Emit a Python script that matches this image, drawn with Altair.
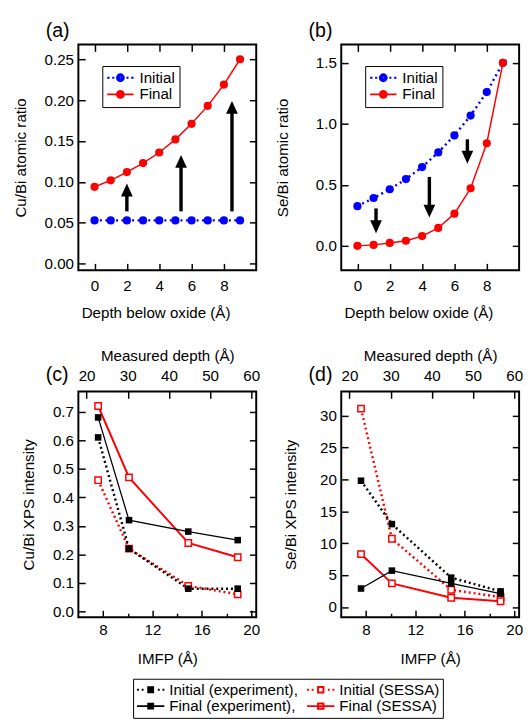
import altair as alt
import pandas as pd

FONT = "Liberation Sans"
BLUE = "#0000ff"
RED = "#ff0000"
BLACK = "#000000"
FS = 15.5

# ---------------- data ----------------
depth = [0, 1, 2, 3, 4, 5, 6, 7, 8, 9]
cu_initial = [0.053, 0.053, 0.053, 0.053, 0.053, 0.053, 0.053, 0.053, 0.053, 0.053]
cu_final = [0.094, 0.102, 0.112, 0.123, 0.136, 0.152, 0.171, 0.193, 0.219, 0.250]
se_initial = [0.325, 0.392, 0.464, 0.547, 0.646, 0.766, 0.905, 1.068, 1.260, 1.500]
se_final = [0.000, 0.008, 0.024, 0.042, 0.080, 0.147, 0.264, 0.472, 0.841, 1.500]

cu_arrow_x = [2.0, 5.35, 8.5]
cu_arrow_tail = [0.064, 0.064, 0.064]
cu_arrow_tip = [0.098, 0.133, 0.199]
se_arrow_x = [1.15, 4.45, 6.8]
se_arrow_tail = [0.307, 0.565, 0.873]
se_arrow_tip = [0.104, 0.232, 0.673]

imfp = [7.6, 10.1, 14.9, 18.9]
cu_init_exp = [0.61, 0.22, 0.08, 0.08]
cu_final_exp = [0.68, 0.32, 0.28, 0.25]
cu_init_sessa = [0.46, 0.22, 0.09, 0.06]
cu_final_sessa = [0.72, 0.47, 0.24, 0.19]
se_init_exp = [19.8, 13.0, 4.6, 2.45]
se_final_exp = [2.9, 5.7, 3.7, 2.1]
se_init_sessa = [31.1, 10.7, 2.7, 1.55]
se_final_sessa = [8.3, 3.7, 1.45, 0.9]

series_ab = ["Initial", "Final"]
# legend entries listed column by column
series_cd = ["Initial (experiment),", "Final (experiment),", "Initial (SESSA)", "Final (SESSA)"]

depth_ticks = [0, 2, 4, 6, 8]
cu_ratio_ticks = [0.0, 0.05, 0.10, 0.15, 0.20, 0.25]
se_ratio_ticks = [0.0, 0.5, 1.0, 1.5]
imfp_ticks = [8, 12, 16, 20]
imfp_minor = [10, 14, 18]
md_ticks = [20, 30, 40, 50, 60]
cu_int_ticks = [0.0, 0.1, 0.2, 0.3, 0.4, 0.5, 0.6, 0.7]
se_int_ticks = [0, 5, 10, 15, 20, 25, 30]

depth_dom = [-1, 10]
cu_ratio_dom = [-0.008, 0.268]
se_ratio_dom = [-0.2, 1.65]
imfp_dom = [6, 20.4]
md_dom = [18, 61.2]
cu_int_dom = [-0.02, 0.771]
se_int_dom = [-1.6, 33.8]

W = 182
H = 231


# ---------------- helpers ----------------
def sc(dom):
    return alt.Scale(domain=dom, nice=False, zero=False)


def ax(**kw):
    base = dict(grid=False, domain=False, labelFlush=False, labelOverlap=False,
                tickColor=BLACK, tickWidth=1.5, labelColor=BLACK, titleColor=BLACK,
                labelFont=FONT, titleFont=FONT, labelFontSize=FS, titleFontSize=FS,
                titleFontWeight="normal")
    base.update(kw)
    return alt.Axis(**base)


def tick_axis(orient, vals, offset, size=7):
    return ax(orient=orient, values=vals, labels=False, ticks=True, tickSize=size,
              offset=offset, title=None)


def carrier(xval, yval, xs, ys, xaxis, yaxis):
    df = pd.DataFrame({"cx": [xval], "cy": [yval]})
    return alt.Chart(df).mark_point(opacity=0, size=1).encode(
        x=alt.X("cx:Q", scale=xs, axis=xaxis),
        y=alt.Y("cy:Q", scale=ys, axis=yaxis),
    )


def frame_layers(xdom, ydom, xvals, yvals, xfmt, yfmt, xtitle, ytitle, ytitle_x,
                 xlabpad, xtitle_x, xtitle_y, md=False):
    xs, ys = sc(xdom), sc(ydom)
    layers = [
        carrier(xvals[0], yvals[0], xs, ys,
                ax(orient="bottom", values=xvals, format=xfmt, ticks=False,
                   labelPadding=xlabpad, title=xtitle, titleX=xtitle_x, titleY=xtitle_y,
                   titleAlign="center", titleBaseline="alphabetic", titleAngle=0),
                ax(orient="left", values=yvals, format=yfmt, ticks=False, labelPadding=5,
                   title=ytitle, titleX=ytitle_x, titleY=H / 2, titleAlign="center",
                   titleBaseline="alphabetic", titleAngle=270)),
        carrier(xvals[0], yvals[0], xs, ys,
                tick_axis("top", xvals, -H), tick_axis("right", yvals, -W)),
    ]
    if md:
        ms = sc(md_dom)
        layers.append(carrier(imfp_minor[0], yvals[0], xs, ys,
                              tick_axis("top", imfp_minor, -H, size=4), None))
        layers.append(carrier(md_ticks[0], yvals[0], ms, ys,
                              ax(orient="top", values=md_ticks, format="d", ticks=False,
                                 labelPadding=8, title="Measured depth (Å)", titleX=W / 2,
                                 titleY=-32, titleAlign="center", titleBaseline="alphabetic",
                                 titleAngle=0),
                              tick_axis("left", yvals, -W)))
        layers.append(carrier(md_ticks[0], yvals[0], ms, ys,
                              tick_axis("bottom", md_ticks, -H), None))
    else:
        layers.append(carrier(xvals[0], yvals[0], xs, ys,
                              tick_axis("bottom", xvals, -H), tick_axis("left", yvals, -W)))
    return layers


def xy(xf, yf, xdom, ydom):
    return dict(x=alt.X(f"{xf}:Q", scale=sc(xdom), axis=None),
                y=alt.Y(f"{yf}:Q", scale=sc(ydom), axis=None))


def ring(r):
    return f"M{r},0A{r},{r} 0 1,1 {-r},0A{r},{r} 0 1,1 {r},0"


def sq(h):
    return f"M{-h},{-h}H{h}V{h}H{-h}Z"


# legend symbols (line + marker), drawn with strokes only
DOTS_AB = "M-1,0H-0.82M-0.62,0H-0.46M0.46,0H0.62M0.82,0H1"
FILLED_CIRCLE = "".join(ring(r) for r in [0.259, 0.185, 0.111, 0.037])
sym_ab = [DOTS_AB + FILLED_CIRCLE, "M-1,0H1" + FILLED_CIRCLE]

DOTS_CD = "M-1,0H-0.86M-0.66,0H-0.52M0.52,0H0.66M0.86,0H1"
FILLED_SQ = "".join(sq(h) for h in [0.179, 0.107, 0.036])
OPEN_SQ = sq(0.196)
sym_cd = [DOTS_CD + FILLED_SQ, "M-1,0H1" + FILLED_SQ, DOTS_CD + OPEN_SQ, "M-1,0H1" + OPEN_SQ]
col_cd = [BLACK, BLACK, RED, RED]

UP_HEAD = "M0,0L1,2.2L-1,2.2Z"
DOWN_HEAD = "M0,0L1,-2.2L-1,-2.2Z"


def legend_layer(names, colors, paths, xdom, ydom, size, lx, ly, cols, pad, lo, cp):
    df = pd.DataFrame({"series": names,
                       "cx": [xdom[0] - 100] * len(names),
                       "cy": [ydom[1] + 100] * len(names)})
    leg = alt.Legend(title=None, orient="none", legendX=lx, legendY=ly, columns=cols,
                     symbolSize=size, symbolStrokeWidth=2, clipHeight=16, rowPadding=0,
                     columnPadding=cp, padding=pad, labelOffset=lo, strokeColor=BLACK,
                     fillColor="white", labelFont=FONT, labelFontSize=FS, labelColor=BLACK)
    return alt.Chart(df).mark_point(clip=True, size=size, strokeWidth=2, opacity=1,
                                    filled=False).encode(
        x=alt.X("cx:Q", scale=sc(xdom), axis=None),
        y=alt.Y("cy:Q", scale=sc(ydom), axis=None),
        color=alt.Color("series:N", scale=alt.Scale(domain=names, range=colors), legend=leg),
        shape=alt.Shape("series:N", scale=alt.Scale(domain=names, range=paths), legend=leg),
    )


def panel_label(text, ypix):
    df = pd.DataFrame({"label": [text]})
    return alt.Chart(df).mark_text(align="left", baseline="alphabetic", fontSize=20,
                                   font=FONT, color=BLACK).encode(
        x=alt.value(-33.5), y=alt.value(ypix), text="label:N")


def ratio_panel(label, initial, final, ydom, yticks, yfmt, ytitle, ax_x, ax_tail, ax_tip, up):
    layers = frame_layers(depth_dom, ydom, depth_ticks, yticks, "d", yfmt,
                          "Depth below oxide (Å)", ytitle, -54.5, 9, W / 2 - 12, 48)
    df_i = pd.DataFrame({"depth": depth, "v": initial})
    df_f = pd.DataFrame({"depth": depth, "v": final})
    df_a = pd.DataFrame({"x": ax_x, "y0": ax_tail, "y1": ax_tip})
    layers += [
        alt.Chart(df_i).mark_line(color=BLUE, strokeWidth=2.5, strokeDash=[2, 3.5])
        .encode(**xy("depth", "v", depth_dom, ydom)),
        alt.Chart(df_f).mark_line(color=RED, strokeWidth=1.5)
        .encode(**xy("depth", "v", depth_dom, ydom)),
        alt.Chart(df_i).mark_circle(color=BLUE, size=70, opacity=1)
        .encode(**xy("depth", "v", depth_dom, ydom)),
        alt.Chart(df_f).mark_circle(color=RED, size=70, opacity=1)
        .encode(**xy("depth", "v", depth_dom, ydom)),
        alt.Chart(df_a).mark_rule(color=BLACK, strokeWidth=3.5, y2Offset=10 if up else -10)
        .encode(x=alt.X("x:Q", scale=sc(depth_dom), axis=None),
                y=alt.Y("y0:Q", scale=sc(ydom), axis=None), y2="y1:Q"),
        alt.Chart(df_a).mark_point(shape=UP_HEAD if up else DOWN_HEAD, size=144, filled=True,
                                   color=BLACK, opacity=1, strokeWidth=0)
        .encode(**xy("x", "y1", depth_dom, ydom)),
        legend_layer(series_ab, [BLUE, RED], sym_ab, depth_dom, ydom, 729, 24.5, 22, 1, 4, 5, 0),
        panel_label(label, -8),
    ]
    return (alt.layer(*layers)
            .resolve_scale(x="independent", y="independent")
            .properties(width=W, height=H))


def xps_panel(label, ie, fe, isx, fsx, ydom, yticks, yfmt, ytitle, ytx, with_legend):
    layers = frame_layers(imfp_dom, ydom, imfp_ticks, yticks, "d", yfmt, "IMFP (Å)", ytitle,
                          ytx, 6, W / 2, 47, md=True)
    d_ie = pd.DataFrame({"imfp": imfp, "v": ie})
    d_fe = pd.DataFrame({"imfp": imfp, "v": fe})
    d_is = pd.DataFrame({"imfp": imfp, "v": isx})
    d_fs = pd.DataFrame({"imfp": imfp, "v": fsx})
    layers += [
        alt.Chart(d_is).mark_line(color=RED, strokeWidth=2.5, strokeDash=[2, 3])
        .encode(**xy("imfp", "v", imfp_dom, ydom)),
        alt.Chart(d_fs).mark_line(color=RED, strokeWidth=2)
        .encode(**xy("imfp", "v", imfp_dom, ydom)),
        alt.Chart(d_ie).mark_line(color=BLACK, strokeWidth=2.5, strokeDash=[2, 3])
        .encode(**xy("imfp", "v", imfp_dom, ydom)),
        alt.Chart(d_fe).mark_line(color=BLACK, strokeWidth=1.3)
        .encode(**xy("imfp", "v", imfp_dom, ydom)),
        alt.Chart(d_is).mark_point(shape="square", size=42, fill="white", stroke=RED,
                                   strokeWidth=1.5, opacity=1)
        .encode(**xy("imfp", "v", imfp_dom, ydom)),
        alt.Chart(d_fs).mark_point(shape="square", size=42, fill="white", stroke=RED,
                                   strokeWidth=1.5, opacity=1)
        .encode(**xy("imfp", "v", imfp_dom, ydom)),
        alt.Chart(d_ie).mark_square(color=BLACK, size=45, opacity=1)
        .encode(**xy("imfp", "v", imfp_dom, ydom)),
        alt.Chart(d_fe).mark_square(color=BLACK, size=45, opacity=1)
        .encode(**xy("imfp", "v", imfp_dom, ydom)),
        panel_label(label, -11),
    ]
    if with_legend:
        layers.append(legend_layer(series_cd, col_cd, sym_cd, imfp_dom, ydom,
                                   784, 56, 294, 2, 3, 4, 8))
    return (alt.layer(*layers)
            .resolve_scale(x="independent", y="independent")
            .properties(width=W, height=H))


pa = ratio_panel("(a)", cu_initial, cu_final, cu_ratio_dom, cu_ratio_ticks, ".2f",
                 "Cu/Bi atomic ratio", cu_arrow_x, cu_arrow_tail, cu_arrow_tip, True)
pb = ratio_panel("(b)", se_initial, se_final, se_ratio_dom, se_ratio_ticks, ".1f",
                 "Se/Bi atomic ratio", se_arrow_x, se_arrow_tail, se_arrow_tip, False)
pc = xps_panel("(c)", cu_init_exp, cu_final_exp, cu_init_sessa, cu_final_sessa, cu_int_dom,
               cu_int_ticks, ".1f", "Cu/Bi XPS intensity", -46, True)
pdd = xps_panel("(d)", se_init_exp, se_final_exp, se_init_sessa, se_final_sessa, se_int_dom,
                se_int_ticks, "d", "Se/Bi XPS intensity", -47, False)

chart = (
    alt.concat(pa, pb, pc, pdd, columns=2, spacing={"row": 124, "column": 87}, bounds="flush")
    .resolve_scale(color="independent", shape="independent")
    .properties(padding={"left": 4, "top": 4, "right": 0, "bottom": 0})
    .configure(font=FONT)
    .configure_view(stroke=BLACK, strokeWidth=2)
)

chart.save("out.html", embed_options={"renderer": "svg", "actions": False})
